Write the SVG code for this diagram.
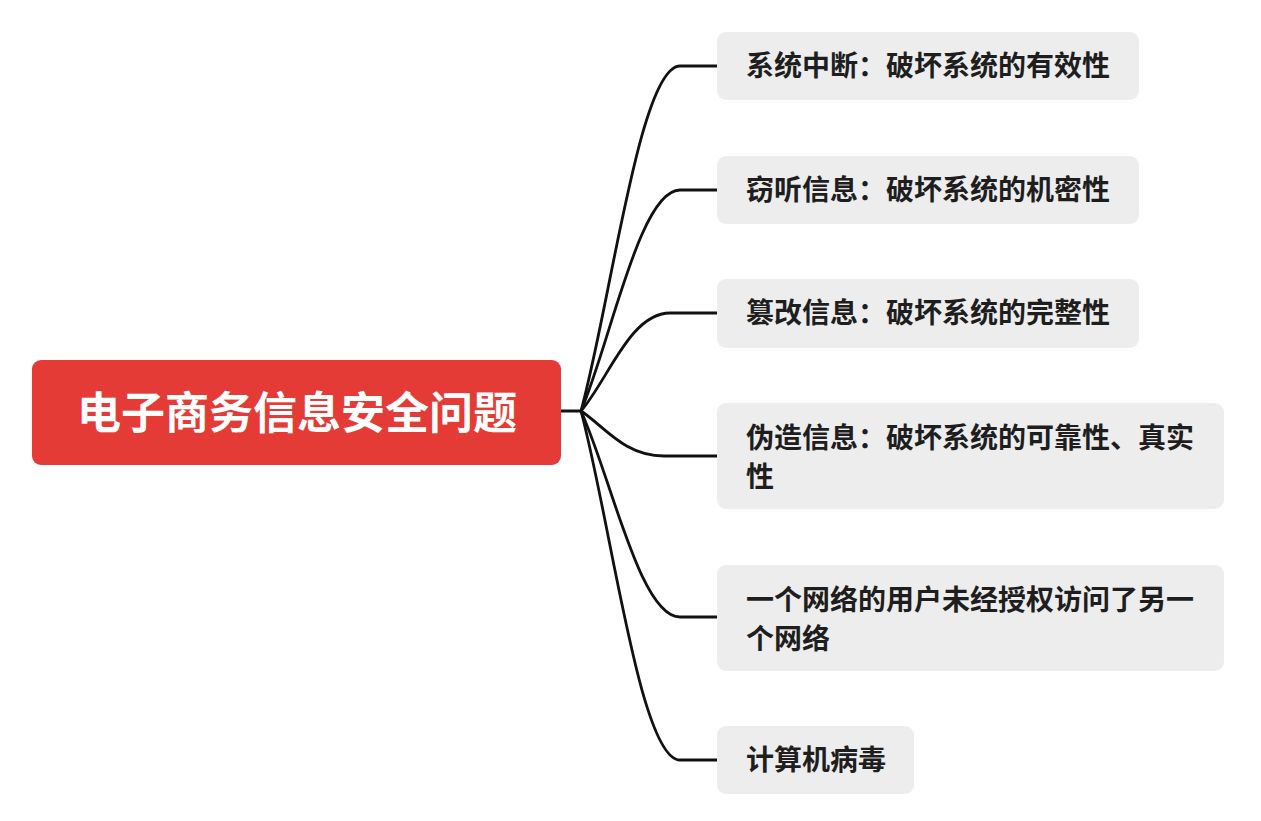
<svg xmlns="http://www.w3.org/2000/svg" width="1261" height="821" viewBox="0 0 1261 821">
<style>
.conn{fill:none;stroke:#111111;stroke-width:2.8;stroke-linecap:round;stroke-linejoin:round}
.box{fill:#EDEDED}
.t{font-family:"Noto Sans CJK SC","Noto Sans",sans-serif;font-weight:700;font-size:28px;fill:#1e1e1e}
.rt{font-family:"Noto Sans CJK SC","Noto Sans",sans-serif;font-weight:700;font-size:44px;fill:#ffffff}
</style>
<rect width="1261" height="821" fill="#ffffff"/>
<g id="connectors">
<path class="conn" d="M561 411 L581 411"/>
<path class="conn" d="M581 411 C611 301 640 66 680 66 L717 66"/>
<path class="conn" d="M581 411 C611 340 640 190 680 190 L717 190"/>
<path class="conn" d="M581 411 C608 380 630 313 670 313 L717 313"/>
<path class="conn" d="M581 411 C604 426 624 456 664 456 L717 456"/>
<path class="conn" d="M581 411 C611 477 640 617 680 617 L717 617"/>
<path class="conn" d="M581 411 C611 523 640 760 680 760 L717 760"/>
</g>
<g id="root">
<rect x="32" y="360" width="529" height="105" rx="9" fill="#E43B37"/>
<text class="rt" x="297" y="429" text-anchor="middle">电子商务信息安全问题</text>
</g>
<g id="n1">
<rect class="box" x="717" y="32" width="422" height="68" rx="9"/>
<text class="t" x="746" y="76">系统中断：破坏系统的有效性</text>
</g>
<g id="n2">
<rect class="box" x="717" y="156" width="422" height="68" rx="9"/>
<text class="t" x="746" y="200">窃听信息：破坏系统的机密性</text>
</g>
<g id="n3">
<rect class="box" x="717" y="279" width="422" height="69" rx="9"/>
<text class="t" x="746" y="323">篡改信息：破坏系统的完整性</text>
</g>
<g id="n4">
<rect class="box" x="717" y="403" width="507" height="106" rx="9"/>
<text class="t" x="746" y="448">伪造信息：破坏系统的可靠性、真实</text>
<text class="t" x="746" y="487">性</text>
</g>
<g id="n5">
<rect class="box" x="717" y="565" width="507" height="106" rx="9"/>
<text class="t" x="746" y="610">一个网络的用户未经授权访问了另一</text>
<text class="t" x="746" y="649">个网络</text>
</g>
<g id="n6">
<rect class="box" x="717" y="726" width="197" height="68" rx="9"/>
<text class="t" x="746" y="770">计算机病毒</text>
</g>
</svg>
